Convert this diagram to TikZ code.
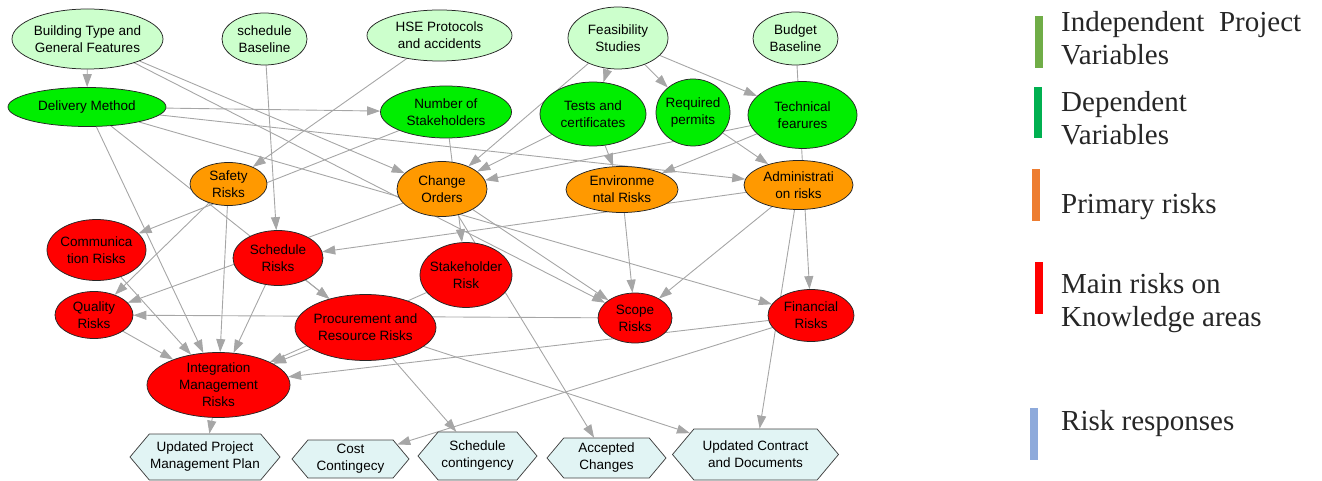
\documentclass[tikz,border=0pt]{standalone}
\usepackage{fontspec}
\setmainfont{Liberation Serif}
\setsansfont{Liberation Sans}
\usepackage{tikz}
\usetikzlibrary{positioning, arrows.meta, shapes.geometric, shapes.symbols, backgrounds}
\definecolor{indepgreen}{HTML}{CCFFCC}
\definecolor{depgreen}{HTML}{00EE00}
\definecolor{primorange}{HTML}{FF9900}
\definecolor{mainred}{HTML}{FF0000}
\definecolor{respcyan}{HTML}{E1F4F4}
\definecolor{edgegray}{HTML}{A6A6A6}
\definecolor{bargreen}{HTML}{70AD47}
\definecolor{bardark}{HTML}{00B050}
\definecolor{barorange}{HTML}{ED7D31}
\definecolor{barblue}{HTML}{8EAADB}
\definecolor{legendtext}{HTML}{262626}

\begin{document}
\begin{tikzpicture}[x=1pt, y=-1pt,
            var/.style={ellipse, draw=black!85, line width=0.75pt, inner sep=-60pt, align=center,
                font=\sffamily\fontsize{13.5}{17}\selectfont},
            indep/.style={var, fill=indepgreen},
            dep/.style={var, fill=depgreen},
            prim/.style={var, fill=primorange},
            mainrisk/.style={var, fill=mainred},
            resp/.style={signal, signal to=west and east, signal pointer angle=100, draw=black!75,
                line width=0.75pt, fill=respcyan, inner sep=0pt, align=center,
                font=\sffamily\fontsize{13.5}{17}\selectfont},
            link/.style={draw=edgegray, line width=0.9pt, -{Triangle[length=13pt, width=9pt]}},
            legend/.style={anchor=west, inner sep=0pt, align=left, text=legendtext,
                font=\rmfamily\fontsize{29}{33}\selectfont}
        ]
            \useasboundingbox (0,0) rectangle (1322,481);

            % Independent project variables
            \node[indep, minimum width=151pt, minimum height=60pt] (bt) at (87.5,39) {Building Type and\\General Features};
            \node[indep, minimum width=85pt, minimum height=52pt] (sb) at (264.5,39) {schedule\\Baseline};
            \node[indep, minimum width=145pt, minimum height=51pt] (hse) at (439.5,35.5) {HSE Protocols\\and accidents};
            \node[indep, minimum width=100pt, minimum height=62pt] (fs) at (618,38) {Feasibility\\Studies};
            \node[indep, minimum width=85pt, minimum height=53pt] (bb) at (795.5,38.5) {Budget\\Baseline};

            % Dependent variables
            \node[dep, minimum width=158pt, minimum height=39pt] (dm) at (87,107) {Delivery Method};
            \node[dep, minimum width=131pt, minimum height=52pt] (ns) at (446,112) {Number of\\Stakeholders};
            \node[dep, minimum width=106pt, minimum height=64pt] (tc) at (593,114) {Tests and\\certificates};
            \node[dep, minimum width=74pt, minimum height=67pt] (rp) at (693,112.5) {Required\\permits};
            \node[dep, minimum width=109pt, minimum height=67pt] (tf) at (802.5,115) {Technical\\fearures};

            % Primary risks
            \node[prim, minimum width=77pt, minimum height=43pt] (sr) at (228.5,184) {Safety\\Risks};
            \node[prim, minimum width=90pt, minimum height=55pt] (co) at (442,189) {Change\\Orders};
            \node[prim, minimum width=112pt, minimum height=46pt] (er) at (622,189.5) {Environme\\ntal Risks};
            \node[prim, minimum width=109pt, minimum height=49pt] (ar) at (798.5,185) {Administrati\\on risks};

            % Main risks on knowledge areas
            \node[mainrisk, minimum width=99pt, minimum height=61pt] (cr) at (96.5,250) {Communica\\tion Risks};
            \node[mainrisk, minimum width=90pt, minimum height=55pt] (schr) at (278,258) {Schedule\\Risks};
            \node[mainrisk, minimum width=92pt, minimum height=65pt] (str) at (466,275) {Stakeholder\\Risk};
            \node[mainrisk, minimum width=78pt, minimum height=47pt] (qr) at (94,315) {Quality\\Risks};
            \node[mainrisk, minimum width=141pt, minimum height=66pt] (pr) at (365.5,327.5) {Procurement and\\Resource Risks};
            \node[mainrisk, minimum width=74pt, minimum height=50pt] (scr) at (635,318) {Scope\\Risks};
            \node[mainrisk, minimum width=86pt, minimum height=52pt] (fr) at (811,315.5) {Financial\\Risks};
            \node[mainrisk, minimum width=143pt, minimum height=65pt] (im) at (218.5,385) {Integration\\Management\\Risks};

            % Risk responses
            \node[resp, minimum width=150pt, minimum height=46pt] (upmp) at (205,457) {Updated Project\\Management Plan};
            \node[resp, minimum width=117pt, minimum height=38pt] (cc) at (350.5,459) {Cost\\Contingecy};
            \node[resp, minimum width=119pt, minimum height=48pt] (sc) at (477.5,456) {Schedule\\contingency};
            \node[resp, minimum width=119pt, minimum height=40pt] (ac) at (606.5,458) {Accepted\\Changes};
            \node[resp, minimum width=166pt, minimum height=51pt] (ucd) at (755.5,454.5) {Updated Contract\\and Documents};

            % Influences, drawn under the nodes
            \begin{scope}[on background layer]
                \draw[link] (bt) -- (dm);
                \draw[link] (bt) -- (co);
                \draw[link] (bt) -- (scr);
                \draw[link] (sb) -- (schr);
                \draw[link] (hse) -- (sr);
                \draw[link] (fs) -- (tc);
                \draw[link] (fs) -- (rp);
                \draw[link] (fs) -- (tf);
                \draw[link] (fs) -- (co);
                \draw[link] (bb) -- (fr);
                \draw[link] (dm) -- (ns);
                \draw[link] (dm) -- (ar);
                \draw[link] (dm) -- (fr);
                \draw[link] (dm) -- (im);
                \draw[link] (dm) -- (pr);
                \draw[link] (ns) -- (str);
                \draw[link] (ns) -- (cr);
                \draw[link] (tc) -- (co);
                \draw[link] (tc) -- (er);
                \draw[link] (rp) -- (ar);
                \draw[link] (tf) -- (co);
                \draw[link] (tf) -- (er);
                \draw[link] (sr) -- (qr);
                \draw[link] (sr) -- (im);
                \draw[link] (co) -- (qr);
                \draw[link] (co) -- (scr);
                \draw[link] (co) -- (ac);
                \draw[link] (er) -- (scr);
                \draw[link] (ar) -- (schr);
                \draw[link] (ar) -- (scr);
                \draw[link] (ar) -- (ucd);
                \draw[link] (cr) -- (im);
                \draw[link] (qr) -- (im);
                \draw[link] (schr) -- (im);
                \draw[link] (schr) -- (pr);
                \draw[link] (str) -- (im);
                \draw[link] (pr) -- (im);
                \draw[link] (pr) -- (sc);
                \draw[link] (pr) -- (ucd);
                \draw[link] (scr) -- (qr);
                \draw[link] (fr) -- (im);
                \draw[link] (fr) -- (cc);
                \draw[link] (im) -- (upmp);
            \end{scope}

            % Legend
            \fill[bargreen] (1035,16) rectangle (1043,68);
            \fill[bardark] (1034,87) rectangle (1042,138);
            \fill[barorange] (1032,169) rectangle (1040,221);
            \fill[mainred] (1035,262) rectangle (1043,314);
            \fill[barblue] (1030,408) rectangle (1038,460);
            \node[legend] (lgindep) at (1061,38) {Independent\ \ Project\\Variables};
            \node[legend] (lgdep) at (1061,118) {Dependent\\Variables};
            \node[legend] (lgprim) at (1061,207) {Primary risks};
            \node[legend] (lgmain) at (1061,303) {Main risks on\\Knowledge areas};
            \node[legend] (lgresp) at (1061,424) {Risk responses};
        \end{tikzpicture}
\end{document}
